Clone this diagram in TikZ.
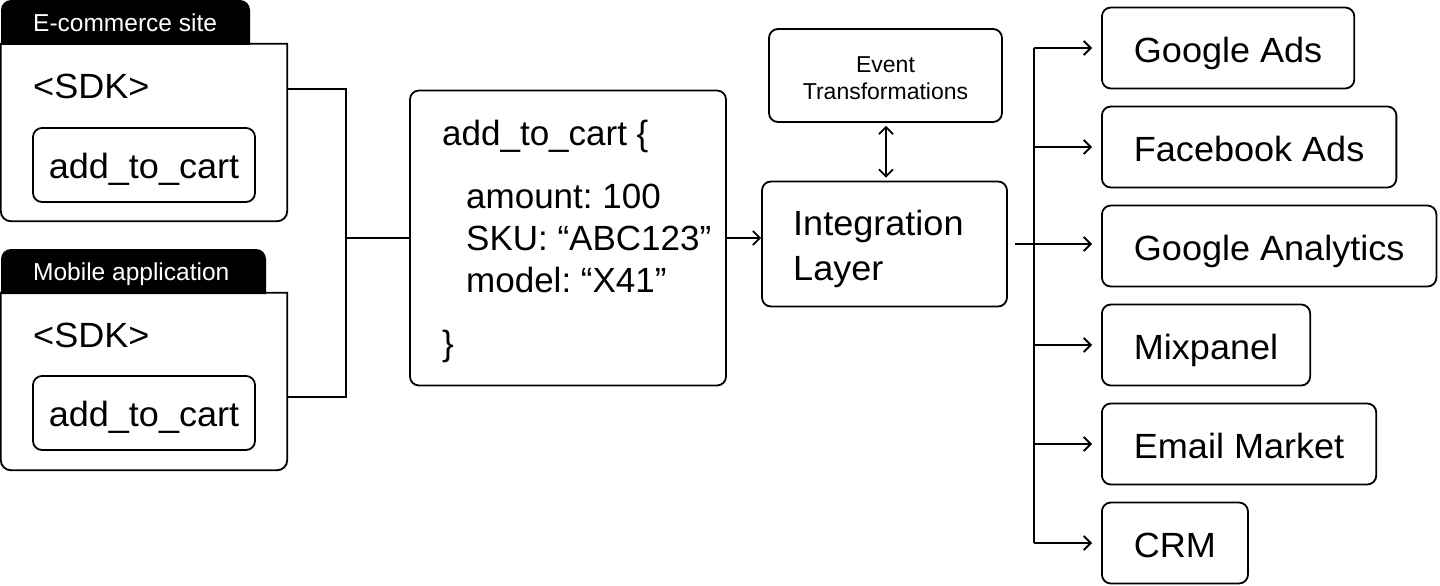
\documentclass[tikz,border=0pt]{standalone}
\usepackage{fontspec}
\setmainfont{Liberation Sans}
\newfontfamily\widesans{Liberation Sans}[FakeStretch=1.03]
\usepackage{tikz}
\usetikzlibrary{positioning}
\usetikzlibrary{arrows.meta}
\tikzset{>={Straight Barb[length=7pt,width=14pt]}}
\tikzstyle{box}=[draw,line width=1.8,rounded corners=9,inner sep=0,font=\widesans\fontsize{35}{42}\selectfont]
\tikzstyle{dest}=[box,anchor=west,minimum height=81,inner xsep=32,text height=29.5,text depth=0]
\tikzstyle{evt}=[box,minimum width=222,minimum height=74,text height=26,text depth=0]
\tikzstyle{plain}=[inner sep=0,font=\widesans\fontsize{35}{42}\selectfont]
\tikzstyle{tabtext}=[white,anchor=base west,inner sep=0,font=\fontsize{24.5}{28}\selectfont]
\tikzstyle{wire}=[line width=1.8]
\def\card#1{\draw[wire] (#1.north west) -- (#1.north east) [rounded corners=10] -- (#1.south east) -- (#1.south west) [sharp corners] -- cycle}
\def\cardtab#1#2{\fill (#2,#1+45) -- (1,#1+45) [rounded corners=10] -- (1,#1) -- (#2,#1) [sharp corners] -- cycle}

\begin{document}
\frenchspacing
\begin{tikzpicture}[x=1pt,y=-1pt]
  \useasboundingbox (0,0) rectangle (1440,586);
  % sources
  \cardtab{0}{250};
  \node[tabtext] (ecomtab) at (33,32) {E-commerce site};
  \node[inner sep=0,minimum width=286,minimum height=177] (ecom) at (144,132.5) {};
  \card{ecom};
  \node[plain,anchor=base west] (ecomsdk) at (33,99) {<SDK>};
  \node[evt] (ecomevt) at (144,165) {add\_to\_cart};
  \cardtab{249}{266};
  \node[tabtext] (mobtab) at (33,280) {Mobile application};
  \node[inner sep=0,minimum width=286,minimum height=177] (mob) at (144,381.5) {};
  \card{mob};
  \node[plain,anchor=base west] (mobsdk) at (33,347) {<SDK>};
  \node[evt] (mobevt) at (144,413) {add\_to\_cart};
  % event payload
  \node[box,minimum width=316,minimum height=295] (payload) at (568,238) {};
  \node[plain,anchor=north west,align=left,font=\fontsize{35}{42}\selectfont] (payloadtext) at (442,117)
    {\rule{0pt}{28pt}add\_to\_cart \{\\[21pt]
     \hspace*{24pt}amount: 100\\
     \hspace*{24pt}SKU: “ABC123”\\
     \hspace*{24pt}model: “X41”\\[21pt]
     \}};
  \coordinate (join) at ([xshift=-63]payload.west);
  \draw[wire] ([yshift=43.5]ecom.east) -| (join) |- ([yshift=-15.5]mob.east);
  \draw[wire] (join) -- (payload.west);
  % integration
  \node[box,minimum width=245,minimum height=125] (integ) at (884.5,244) {};
  \node[plain,anchor=north west,align=left,font=\widesans\fontsize{35}{45}\selectfont] (integtext) at (793,207)
    {\rule{0pt}{28pt}Integration\\Layer};
  \node[box,minimum width=233,minimum height=93] (transf) at (885.5,75.5) {};
  \node[plain,anchor=north,align=center,font=\fontsize{23}{27}\selectfont] (transftext) at (885.5,53)
    {\rule{0pt}{19pt}Event\\Transformations};
  \draw[wire,->] (payload.east) -- (payload.east -| integ.west);
  \draw[wire,<->,shorten <=3,shorten >=3] (transf.south -| 886,0) -- (integ.north -| 886,0);
  % destinations
  \foreach \name/\lab/\y in {gads/Google Ads/48,fbads/Facebook Ads/147,ganalytics/Google Analytics/246,
                             mixpanel/Mixpanel/345,email/Email Market/444,crm/CRM/543}
    \node[dest] (\name) at (1101,\y) {\lab};
  \coordinate (trunk) at (1034,0);
  \draw[wire] (trunk |- gads.west) -- (trunk |- crm.west);
  \draw[wire,->,shorten <=7,shorten >=9] (integ.east) -- (integ.east -| ganalytics.west);
  \foreach \name in {gads,fbads,mixpanel,email,crm}
    \draw[wire,->,shorten >=9] (trunk |- \name.west) -- (\name.west);
\end{tikzpicture}
\end{document}
